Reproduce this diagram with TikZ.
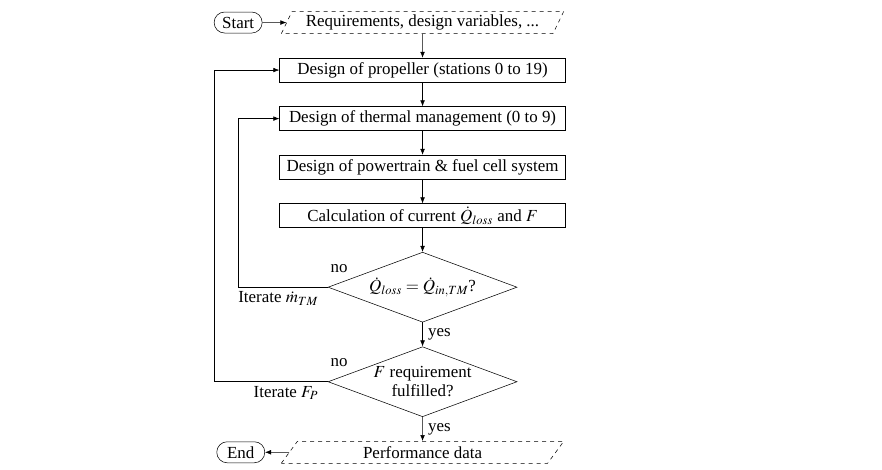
\documentclass[tikz,border=0pt]{standalone}
\usepackage{mathptmx}
\usepackage{fontspec}
\setmainfont{Liberation Serif}
\usetikzlibrary{positioning,arrows.meta,shapes.geometric}

\begin{document}
\begin{tikzpicture}[font=\fontsize{12.7}{14.5}\selectfont, node distance=18pt, >={Latex[length=4.5pt,width=3.5pt]}]
  \tikzstyle{box}=[draw,minimum width=214.5pt,minimum height=18pt,inner sep=2pt]
  \tikzstyle{io}=[draw,dashed,trapezium,trapezium left angle=62,trapezium right angle=118,trapezium stretches=true,minimum width=212pt,minimum height=16.5pt,inner sep=1pt]
  \tikzstyle{term}=[draw,rounded corners=7.8pt,minimum width=36pt,minimum height=15.75pt,inner sep=1pt]
  \tikzstyle{test}=[draw,diamond,aspect=2.7,minimum width=141.75pt,minimum height=52.5pt,inner sep=0pt,align=center]
  \tikzstyle{lbl}=[inner sep=1pt]
  \useasboundingbox (-316.9pt,-335.6pt) rectangle (344.6pt,16.9pt);
  \node[io] (req) {Requirements, design variables, ...};
  \node[term] (start) [left=of req] {Start};
  \node[box] (prop) [below=of req] {Design of propeller (stations 0 to 19)};
  \node[box] (therm) [below=of prop] {Design of thermal management (0 to 9)};
  \node[box] (power) [below=of therm] {Design of powertrain \& fuel cell system};
  \node[box] (calc) [below=of power] {Calculation of current $\dot{Q}_{loss}$ and $F$};
  \node[test] (conv) [below=of calc] {$\dot{Q}_{loss}=\dot{Q}_{in,TM}$?};
  \node[test] (thrust) [below=of conv] {$F$ requirement\\fulfilled?};
  \node[io] (perf) [below=of thrust] {Performance data};
  \node[term] (end) [left=of perf] {End};
  \draw[->] (start) -- (req);
  \draw[->] (req) -- (prop);
  \draw[->] (prop) -- (therm);
  \draw[->] (therm) -- (power);
  \draw[->] (power) -- (calc);
  \draw[->] (calc) -- (conv);
  \draw[->] (conv) -- node[lbl,right=3pt] {yes} (thrust);
  \draw[->] (thrust) -- node[lbl,right=3pt] {yes} (perf);
  \draw[->] (perf) -- (end);
  % loops back
  \draw[->] (conv.west) node[lbl,above right,xshift=1pt,yshift=10pt] {no}
    node[lbl,below left,xshift=-6pt,yshift=-2pt] {Iterate $\dot{m}_{TM}$}
    -- (conv.west -| start) |- (therm);
  \draw[->] (thrust.west) node[lbl,above right,xshift=1pt,yshift=10pt] {no}
    node[lbl,below left,xshift=-6pt,yshift=-2pt] {Iterate $F_P$}
    -- (thrust.west -| start.west) |- (prop);
\end{tikzpicture}
\end{document}
